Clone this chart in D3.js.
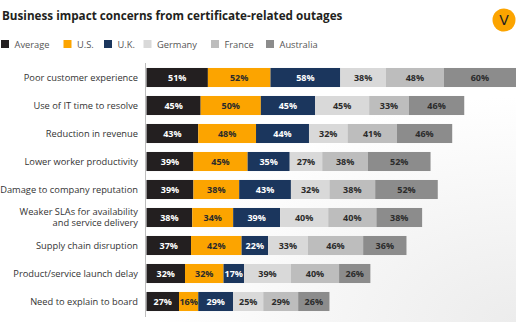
<!DOCTYPE html>
<html><head><meta charset="utf-8">
<script src="https://cdn.jsdelivr.net/npm/d3@7"></script>
<style>
html,body{margin:0;padding:0;background:#fff;}
svg{display:block;font-family:"Open Sans",sans-serif;}
</style></head>
<body>
<svg id="chart" width="516" height="322"></svg>
<script>
const categories = [
  "Poor customer experience",
  "Use of IT time to resolve",
  "Reduction in revenue",
  "Lower worker productivity",
  "Damage to company reputation",
  "Weaker SLAs for availability\nand service delivery",
  "Supply chain disruption",
  "Product/service launch delay",
  "Need to explain to board"
];
const seriesNames = ["Average", "U.S.", "U.K.", "Germany", "France", "Australia"];
const average   = [51, 45, 43, 39, 39, 38, 37, 32, 27];
const us        = [52, 50, 48, 45, 38, 34, 42, 32, 16];
const uk        = [58, 45, 44, 35, 43, 39, 22, 17, 29];
const germany   = [38, 45, 32, 27, 32, 40, 33, 39, 25];
const france    = [48, 33, 41, 38, 38, 40, 46, 40, 29];
const australia = [60, 46, 46, 52, 52, 38, 36, 26, 26];
const colors = ["#231f20", "#fca400", "#1b365d", "#d9d9d9", "#bdbdbd", "#8c8c8c"];
const textColors = ["#ffffff", "#2b2b2b", "#ffffff", "#2b2b2b", "#2b2b2b", "#2b2b2b"];

const seriesValues = [average, us, uk, germany, france, australia];
const rows = categories.map((c, i) => {
  const r = {category: c};
  seriesNames.forEach((s, j) => r[s] = seriesValues[j][i]);
  return r;
});
const stacked = d3.stack().keys(seriesNames)(rows);

const svg = d3.select("#chart");

// subtle background shading
const defs = svg.append("defs");
const rg = defs.append("radialGradient").attr("id", "bg").attr("cx", "100%").attr("cy", "100%").attr("r", "70%");
rg.append("stop").attr("offset", "0%").attr("stop-color", "#ececec");
rg.append("stop").attr("offset", "100%").attr("stop-color", "#ffffff");
svg.append("rect").attr("width", 516).attr("height", 322).attr("fill", "url(#bg)");

// title
svg.append("text").attr("x", 2).attr("y", 19.5)
  .attr("font-size", 11.7).attr("font-weight", 700).attr("fill", "#231f20")
  .text("Business impact concerns from certificate-related outages");

// logo
svg.append("circle").attr("cx", 504).attr("cy", 20).attr("r", 11.5).attr("fill", "#fca400");
svg.append("text").attr("x", 504).attr("y", 25).attr("text-anchor", "middle")
  .attr("font-size", 14).attr("fill", "#231f20").attr("font-family", "DejaVu Sans, sans-serif").text("V");

// legend
const legendX = [1, 63.5, 104, 143.5, 211, 266];
const lg = svg.append("g").selectAll("g").data(seriesNames).join("g")
  .attr("transform", (d, i) => `translate(${legendX[i]},40)`);
lg.append("rect").attr("width", 8).attr("height", 8).attr("fill", (d, i) => colors[i]);
lg.append("text").attr("x", 13.5).attr("y", 7.6).attr("font-size", 9.3).attr("fill", "#555")
  .text(d => d);

// scales
const x = d3.scaleLinear().domain([0, 307]).range([146.5, 516]);
const y = d3.scaleBand().domain(categories).range([63.5, 315.5]).paddingInner(0.32).paddingOuter(0.16);

// axis line
svg.append("line").attr("x1", 145.5).attr("x2", 145.5).attr("y1", 63).attr("y2", 317)
  .attr("stroke", "#bdbdbd").attr("stroke-width", 1);

// category labels (one text element per line)
const labelLines = [];
categories.forEach(c => {
  const lines = c.split("\n");
  lines.forEach((l, k) => labelLines.push({cat: c, text: l, off: k - (lines.length - 1) / 2}));
});
svg.append("g").selectAll("text").data(labelLines).join("text")
  .attr("x", 138)
  .attr("y", d => y(d.cat) + y.bandwidth() / 2 + 3.3 + d.off * 11)
  .attr("font-size", 9.3).attr("fill", "#333").attr("text-anchor", "end")
  .text(d => d.text);

// bars
const groups = svg.append("g").selectAll("g").data(stacked).join("g")
  .attr("fill", (d, i) => colors[i]);
groups.selectAll("rect").data(d => d).join("rect")
  .attr("x", d => x(d[0]))
  .attr("width", d => x(d[1]) - x(d[0]))
  .attr("y", d => y(d.data.category))
  .attr("height", y.bandwidth());

// value labels
stacked.forEach((s, i) => {
  svg.append("g").selectAll("text").data(s).join("text")
    .attr("x", d => (x(d[0]) + x(d[1])) / 2)
    .attr("y", d => y(d.data.category) + y.bandwidth() / 2 + 3.3)
    .attr("text-anchor", "middle").attr("font-size", 9).attr("font-weight", 700)
    .attr("fill", textColors[i])
    .text(d => (d[1] - d[0]) + "%");
});
</script>
</body></html>
